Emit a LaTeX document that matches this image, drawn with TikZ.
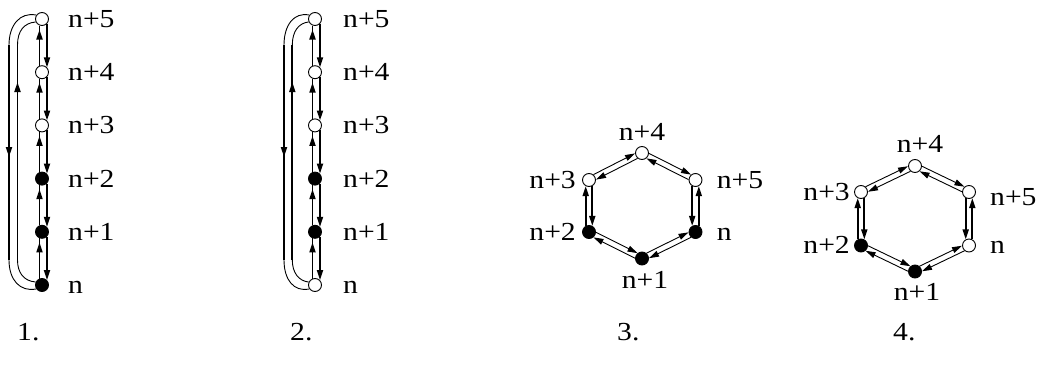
\documentclass[tikz,border=0pt]{standalone}
\usepackage{fontspec}
\setmainfont{Liberation Serif}
\newfontfamily\lserif{Liberation Serif}
\usepackage{graphicx}
\usetikzlibrary{arrows.meta,calc,decorations.markings}
\newcommand\lb[1]{\scalebox{1.14}[1]{#1}}
% #1 style, #2 from, #3 to, #4 perpendicular offset, #5 distance from centre along edge
\newcommand\dedge[5][]{\draw[#1] ($ ($(#2)!#5!(#3)$)!#4!90:(#3) $) -- ($ ($(#3)!#5!(#2)$)!#4!-90:(#2) $);}
\tikzset{
 vtx/.style={circle, draw, line width=0.9pt, minimum size=13pt, inner sep=0pt},
 wv/.style={vtx, fill=white},
 bv/.style={vtx, fill=black},
 lbl/.style={inner sep=0pt, text height=17pt, text depth=0pt, font=\lserif\fontsize{26}{31}\selectfont},
 tip/.style={-{Triangle[length=10pt,width=6pt]}},
 thickln/.style={line width=1.7pt},
 thinln/.style={line width=0.9pt},
 midtip/.style={postaction={decorate}, decoration={markings, mark=at position #1 with {\arrow{Triangle[length=10pt,width=6pt]}}}},
}
\begin{document}
\begin{tikzpicture}[x=1pt,y=-1pt]
\useasboundingbox (0,0) rectangle (1042,367);
% ---------- diagram 1
\node[wv] (a5) at (42,19) {};
\node[wv] (a4) at (42,72.2) {};
\node[wv] (a3) at (42,125.4) {};
\node[bv] (a2) at (42,178.6) {};
\node[bv] (a1) at (42,231.8) {};
\node[bv] (a0) at (42,285) {};
\foreach \l/\u in {a0/a1,a1/a2,a2/a3,a3/a4,a4/a5}{
  \dedge[thickln,midtip=-4pt]{\l}{\u}{2.5pt}{6.5pt}
  \dedge[thickln,tip]{\u}{\l}{5pt}{4.9pt}
}
\draw[thinln] ($(a5)+(-6,-4)$) .. controls ($(a5)+(-22,-7)$) and ($(a5)+(-33,6)$) .. ($(a5)+(-33,26)$);
\draw[thickln,midtip=112pt] ($(a5)+(-33,26)$) -- ($(a0)+(-33,-25)$);
\draw[thinln] ($(a0)+(-33,-25)$) .. controls ($(a0)+(-33,-5)$) and ($(a0)+(-22,7)$) .. ($(a0)+(-6,4)$);
\draw[thinln] ($(a5)+(-6.5,3)$) .. controls ($(a5)+(-18,4)$) and ($(a5)+(-24.5,12)$) .. ($(a5)+(-24.5,26)$);
\draw[thickln,midtip=178pt] ($(a0)+(-24.5,-25)$) -- ($(a5)+(-24.5,26)$);
\draw[thinln] ($(a0)+(-24.5,-25)$) .. controls ($(a0)+(-24.5,-12)$) and ($(a0)+(-18,-4)$) .. ($(a0)+(-6.5,-3)$);
\foreach \v/\t in {a5/n+5,a4/n+4,a3/n+3,a2/n+2,a1/n+1,a0/n}{
  \node[lbl,anchor=west] (l\v) at ($(\v)+(26,0)$) {\lb{\t}};
}
% ---------- diagram 2
\node[wv] (b5) at (315,19) {};
\node[wv] (b4) at (315,72.2) {};
\node[wv] (b3) at (315,125.4) {};
\node[bv] (b2) at (315,178.6) {};
\node[bv] (b1) at (315,231.8) {};
\node[wv] (b0) at (315,285) {};
\foreach \l/\u in {b0/b1,b1/b2,b2/b3,b3/b4,b4/b5}{
  \dedge[thickln,midtip=-4pt]{\l}{\u}{2.5pt}{6.5pt}
  \dedge[thickln,tip]{\u}{\l}{5pt}{4.9pt}
}
\draw[thinln] ($(b5)+(-6,-4)$) .. controls ($(b5)+(-21,-7)$) and ($(b5)+(-31,6)$) .. ($(b5)+(-31,26)$);
\draw[thickln,midtip=112pt] ($(b5)+(-31,26)$) -- ($(b0)+(-31,-25)$);
\draw[thinln] ($(b0)+(-31,-25)$) .. controls ($(b0)+(-31,-5)$) and ($(b0)+(-21,7)$) .. ($(b0)+(-6,4)$);
\draw[thinln] ($(b5)+(-6.5,3)$) .. controls ($(b5)+(-16,4)$) and ($(b5)+(-22.7,12)$) .. ($(b5)+(-22.7,26)$);
\draw[thickln,midtip=178pt] ($(b0)+(-22.7,-25)$) -- ($(b5)+(-22.7,26)$);
\draw[thinln] ($(b0)+(-22.7,-25)$) .. controls ($(b0)+(-22.7,-12)$) and ($(b0)+(-16,-4)$) .. ($(b0)+(-6.5,-3)$);
\foreach \v/\t in {b5/n+5,b4/n+4,b3/n+3,b2/n+2,b1/n+1,b0/n}{
  \node[lbl,anchor=west] (l\v) at ($(\v)+(28,0)$) {\lb{\t}};
}
% ---------- diagram 3
\node[wv] (c4) at (642,153) {};
\node[wv] (c3) at (589,180) {};
\node[wv] (c5) at (695.5,180) {};
\node[bv] (c2) at (589,232) {};
\node[bv] (c0) at (695.5,232) {};
\node[bv] (c1) at (642,258.5) {};
% ---------- diagram 4
\node[wv] (d4) at (915,166) {};
\node[wv] (d3) at (861,192) {};
\node[wv] (d5) at (969,192) {};
\node[bv] (d2) at (861,245.5) {};
\node[wv] (d0) at (969,245.5) {};
\node[bv] (d1) at (915,271.5) {};
\foreach \p in {c,d}{
  \foreach \a/\b in {3/4,4/5,0/1,1/2}{
    \dedge[thinln,tip]{\p\a}{\p\b}{2.8pt}{6.4pt}
    \dedge[thinln,tip]{\p\b}{\p\a}{2.8pt}{6.4pt}
  }
  \dedge[thickln,tip]{\p2}{\p3}{3.3pt}{6.1pt}
  \dedge[thickln,tip]{\p3}{\p2}{3.3pt}{6.1pt}
  \dedge[thickln,tip]{\p0}{\p5}{-3.3pt}{6.1pt}
  \dedge[thickln,tip]{\p5}{\p0}{-3.3pt}{6.1pt}
}
\node[lbl] (lc4) at (642,132) {\lb{n+4}};
\node[lbl,anchor=east] (lc3) at (576,180) {\lb{n+3}};
\node[lbl,anchor=west] (lc5) at (716.7,180) {\lb{n+5}};
\node[lbl,anchor=east] (lc2) at (576,232) {\lb{n+2}};
\node[lbl,anchor=west] (lc0) at (716.7,232) {\lb{n}};
\node[lbl] (lc1) at (645,280) {\lb{n+1}};
\node[lbl] (ld4) at (920,144) {\lb{n+4}};
\node[lbl,anchor=east] (ld3) at (850,191.7) {\lb{n+3}};
\node[lbl,anchor=west] (ld5) at (990,197) {\lb{n+5}};
\node[lbl,anchor=east] (ld2) at (850,245) {\lb{n+2}};
\node[lbl,anchor=west] (ld0) at (990,245) {\lb{n}};
\node[lbl] (ld1) at (917,292) {\lb{n+1}};
% ---------- numbering
\node[lbl,anchor=west] (k1) at (17,332) {\lb{1.}};
\node[lbl,anchor=west] (k2) at (290,332) {\lb{2.}};
\node[lbl,anchor=west] (k3) at (617,332) {\lb{3.}};
\node[lbl,anchor=west] (k4) at (893,332) {\lb{4.}};
\end{tikzpicture}
\end{document}
